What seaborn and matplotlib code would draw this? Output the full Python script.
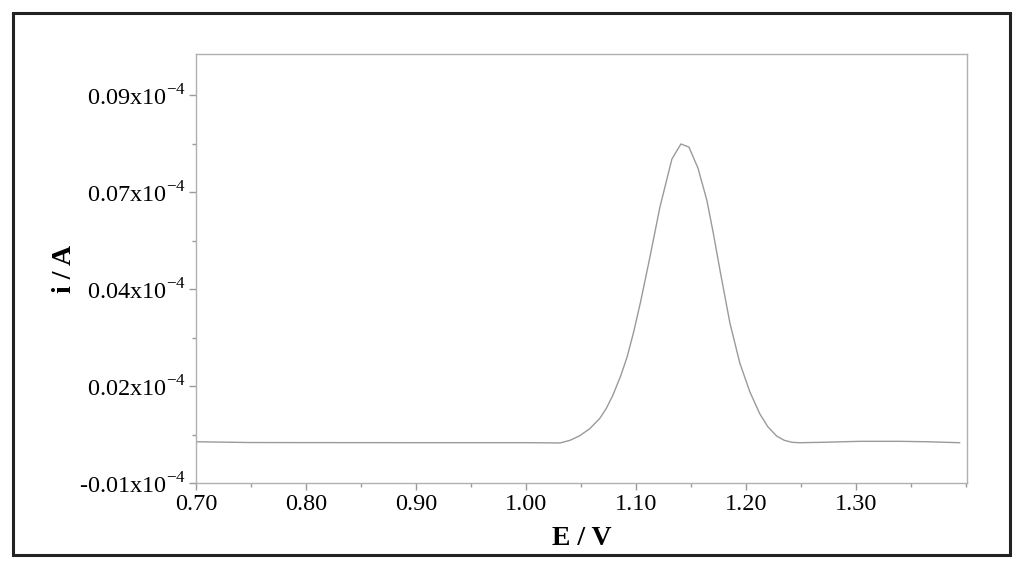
import numpy as np
import pandas as pd
import seaborn as sns
import matplotlib.pyplot as plt
from matplotlib.patches import Rectangle

# potential (V) and current (x10^-4 A)
potential = [0.700, 0.749, 0.800, 0.900, 1.000, 1.020, 1.031, 1.040, 1.049, 1.058, 1.067,
             1.073, 1.079, 1.086, 1.092, 1.098, 1.104, 1.1127, 1.1218, 1.1327,
             1.1409, 1.1482, 1.1564, 1.1645, 1.1705, 1.1764, 1.1855, 1.1945, 1.2036,
             1.2127, 1.2200, 1.2280, 1.2350, 1.2420, 1.2490, 1.2700, 1.3036, 1.3400,
             1.3645, 1.3945]
current = [0.00064, 0.00044, 0.00042, 0.00040, 0.00040, 0.00036, 0.00033, 0.00100, 0.00220,
           0.00400, 0.00660, 0.00920, 0.01260, 0.01750, 0.02250, 0.02900, 0.03640, 0.04820,
           0.06110, 0.07350, 0.07740, 0.07660, 0.07120, 0.06290, 0.05420, 0.04490,
           0.03120, 0.02090, 0.01350, 0.00780, 0.00450, 0.00210, 0.00100, 0.00050,
           0.00039, 0.00050, 0.00075, 0.00075, 0.00064, 0.00039]

x_ticks = [0.70, 0.80, 0.90, 1.00, 1.10, 1.20, 1.30]
x_labels = ["0.70", "0.80", "0.90", "1.00", "1.10", "1.20", "1.30"]
y_ticks = [-0.010, 0.015, 0.040, 0.065, 0.090]
y_labels = ["-0.01", "0.02", "0.04", "0.07", "0.09"]

df = pd.DataFrame({"E": potential, "i": current})

sns.set_style("white")
plt.rcParams["font.family"] = ["Liberation Serif", "DejaVu Serif"]
plt.rcParams["mathtext.fontset"] = "custom"
plt.rcParams["mathtext.rm"] = "Liberation Serif"
plt.rcParams["axes.unicode_minus"] = False
plt.rcParams["text.color"] = "black"
plt.rcParams["axes.labelcolor"] = "black"
plt.rcParams["xtick.labelcolor"] = "black"
plt.rcParams["ytick.labelcolor"] = "black"

fig = plt.figure(figsize=(10.24, 5.69), dpi=100)
ax = fig.add_axes([0.1914, 0.1511, 0.7529, 0.7540])

sns.lineplot(data=df, x="E", y="i", ax=ax, color="#9a9a9a", linewidth=1.0)

ax.set_xlim(0.70, 1.401)
ax.set_ylim(-0.010, 0.1006)

ax.set_xticks(x_ticks)
ax.set_xticklabels(x_labels, fontsize=17.5)
ax.set_xticks([0.75, 0.85, 0.95, 1.05, 1.15, 1.25, 1.35, 1.40], minor=True)
ax.set_yticks(y_ticks)
ax.set_yticklabels([s + r"x10$^{\mathregular{-4}}$" for s in y_labels], fontsize=17.5)
ax.set_yticks([0.0025, 0.0275, 0.0525, 0.0775], minor=True)

ax.tick_params(axis="both", which="both", direction="out", color="#9a9a9a",
               bottom=True, left=True, width=1)
ax.tick_params(axis="both", which="major", length=5, pad=2)
ax.tick_params(axis="both", which="minor", length=3)
ax.tick_params(axis="x", which="major", pad=3)

for s in ax.spines.values():
    s.set_color("#b0b0b0")
    s.set_linewidth(1.0)

ax.set_xlabel("E / V", fontsize=20, fontweight="bold", labelpad=8)
ax.set_ylabel("i / A", fontsize=20, fontweight="bold", labelpad=2)

# outer frame around the whole picture
fig.patches.append(Rectangle((0.0127, 0.0246), 0.9736, 0.9525, transform=fig.transFigure,
                             fill=False, edgecolor="#222222", linewidth=2.2))

fig.savefig("out.png", dpi=100)
